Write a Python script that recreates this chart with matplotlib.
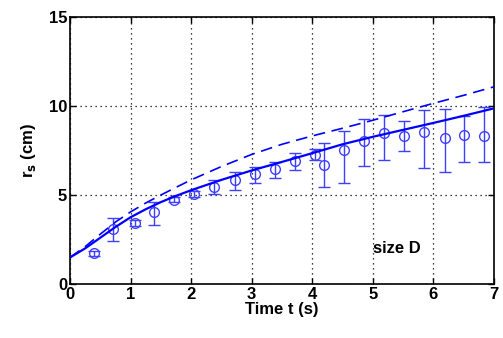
import matplotlib
matplotlib.use("Agg")
import matplotlib.pyplot as plt

# Experimental data (circles with error bars)
t_data = [0.39, 0.71, 1.07, 1.39, 1.72, 2.05, 2.38, 2.72, 3.05, 3.38, 3.72,
          4.05, 4.19, 4.52, 4.85, 5.18, 5.51, 5.85, 6.19, 6.51, 6.84]
r_data = [1.72, 3.1, 3.43, 4.05, 4.74, 5.07, 5.45, 5.82, 6.19, 6.47, 6.9,
          7.22, 6.66, 7.54, 8.06, 8.47, 8.34, 8.56, 8.2, 8.37, 8.34]
r_upper = [1.85, 3.73, 3.6, 4.6, 4.9, 5.25, 5.82, 6.28, 6.6, 6.84, 7.37,
           7.6, 7.93, 8.58, 9.25, 9.5, 9.16, 9.78, 9.81, 9.42, 9.92]
r_lower = [1.6, 2.4, 3.28, 3.3, 4.6, 4.9, 5.07, 5.26, 5.67, 5.97, 6.38,
           6.94, 5.45, 5.67, 6.64, 6.94, 7.48, 6.53, 6.28, 6.88, 6.84]

# Model curves
t_solid = [0, 0.25, 0.5, 0.75, 1.0, 1.25, 1.5, 1.75, 2.0, 2.5, 3.0, 3.5, 4.0,
           4.5, 5.0, 5.5, 6.0, 6.5, 7.0]
r_solid = [1.49, 2.0, 2.6, 3.2, 3.75, 4.2, 4.6, 4.95, 5.27, 5.85, 6.38, 6.86,
           7.35, 7.85, 8.27, 8.66, 9.05, 9.45, 9.87]
t_dash = [0, 0.25, 0.5, 0.75, 1.0, 1.25, 1.5, 1.75, 2.0, 2.5, 3.0, 3.5, 4.0,
          4.5, 5.0, 5.5, 6.0, 6.5, 7.0]
r_dash = [1.49, 2.1, 2.8, 3.48, 4.05, 4.55, 5.0, 5.43, 5.85, 6.6, 7.28, 7.85,
          8.32, 8.75, 9.2, 9.68, 10.15, 10.6, 11.08]

xticks = [0, 1, 2, 3, 4, 5, 6, 7]
yticks = [0, 5, 10, 15]

plt.rcParams['font.family'] = ['Liberation Sans', 'DejaVu Sans']

fig = plt.figure(figsize=(5.03, 3.38), dpi=100)
ax = fig.add_axes([70/503, 1-284/338, 424/503, 267/338])

blue = '#0000ff'
ebcol = '#3f3fff'
yerr = [[r - lo for r, lo in zip(r_data, r_lower)],
        [hi - r for r, hi in zip(r_data, r_upper)]]
ax.errorbar(t_data, r_data, yerr=yerr, fmt='o', mfc='none', mec=ebcol,
            ms=7, mew=1.0, ecolor=ebcol, elinewidth=1.0, capsize=4, capthick=1.0,
            zorder=3)
ax.plot(t_solid, r_solid, '-', color=blue, lw=1.6, zorder=4)
ax.plot(t_dash, r_dash, '--', color=blue, lw=1.2, dashes=(7, 4), zorder=4)

ax.set_xlim(0, 7)
ax.set_ylim(0, 15)
ax.set_xticks(xticks)
ax.set_yticks(yticks)
ax.grid(True, color='black', linestyle=(0, (1, 3)), linewidth=0.9)
ax.tick_params(direction='in', top=True, right=True, length=4, width=1,
               labelsize=12, pad=2)
for lab in ax.get_xticklabels() + ax.get_yticklabels():
    lab.set_fontweight('bold')
for s in ax.spines.values():
    s.set_linewidth(1.2)

ax.set_xlabel('Time t (s)', fontsize=12, fontweight='bold', labelpad=0)
ax.set_ylabel(r'r$_\mathbf{s}$ (cm)', fontsize=12, fontweight='bold', labelpad=8)
ax.text(5.0, 2.0, 'size D', fontsize=12, fontweight='bold', va='center', ha='left')

fig.savefig('out.png', dpi=100)
